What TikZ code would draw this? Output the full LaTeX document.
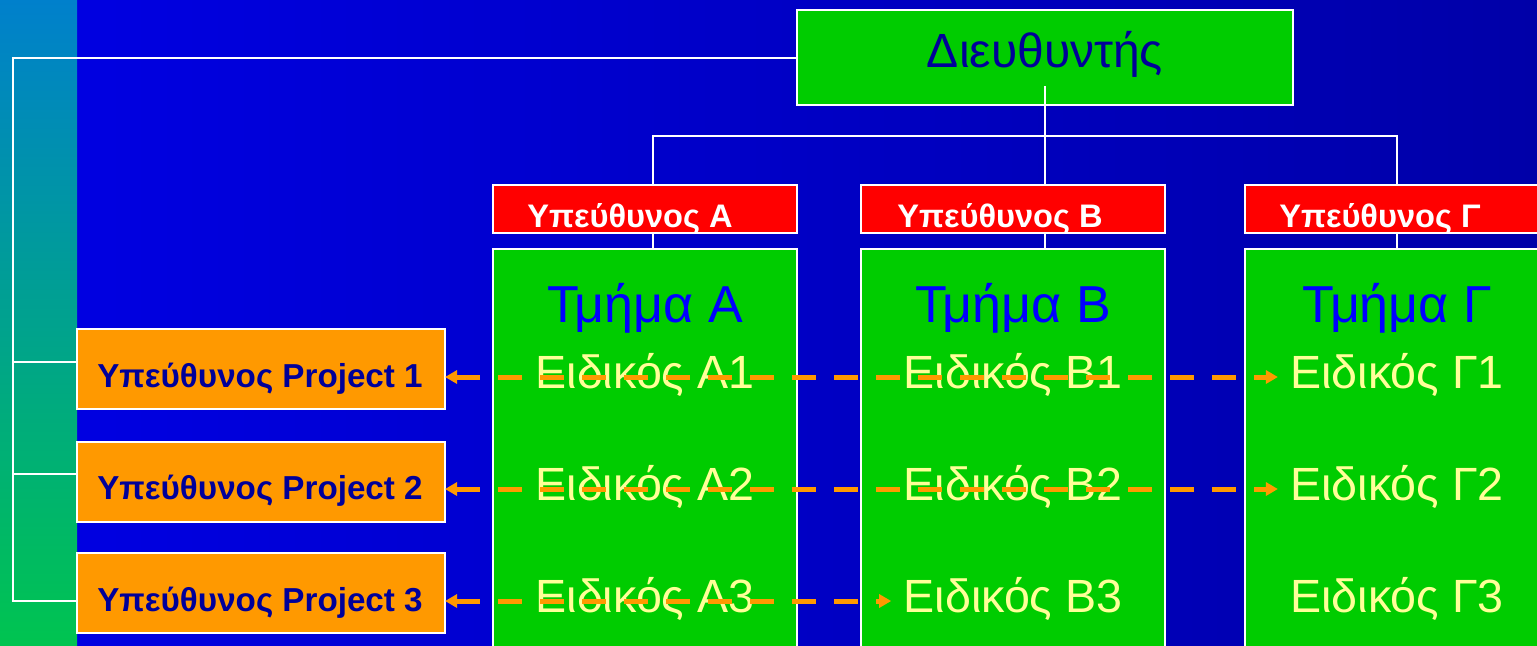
\documentclass[tikz,border=0pt]{standalone}
\usepackage{fontspec}
\setmainfont{Liberation Sans}
\usetikzlibrary{arrows.meta,calc}
\definecolor{bgA}{RGB}{0,0,228}
\definecolor{bgB}{RGB}{0,0,168}
\definecolor{stripT}{RGB}{0,128,204}
\definecolor{stripB}{RGB}{0,196,80}
\definecolor{boxgreen}{RGB}{0,204,0}
\definecolor{navy}{RGB}{0,0,153}
\definecolor{orng}{RGB}{255,153,0}
\definecolor{pale}{RGB}{255,255,153}
\definecolor{tblue}{RGB}{0,0,255}
\begin{document}
\begin{tikzpicture}[x=0.5pt,y=-0.5pt,
  box/.style={draw=white,line width=1pt,inner sep=0pt,outer sep=0pt},
  greenbox/.style={box,fill=boxgreen},
  redbox/.style={box,fill=red,minimum width=152pt,minimum height=24pt},
  deptbox/.style={greenbox,minimum width=152pt,minimum height=225.5pt},
  projbox/.style={box,fill=orng,minimum width=184pt,minimum height=40pt},
  wline/.style={draw=white,line width=1pt},
  dirtext/.style={anchor=base,inner sep=0pt,text=navy,font=\fontsize{24pt}{28pt}\selectfont},
  headtext/.style={anchor=base,inner sep=0pt,text=white,font=\bfseries\fontsize{16.3pt}{20pt}\selectfont},
  projtext/.style={anchor=base,inner sep=0pt,text=navy,font=\bfseries\fontsize{16.6pt}{20pt}\selectfont},
  depttext/.style={anchor=base,inner sep=0pt,text=tblue,font=\fontsize{26pt}{30pt}\selectfont},
  spectext/.style={anchor=base,inner ysep=0pt,inner xsep=6pt,text=pale,font=\fontsize{23.3pt}{28pt}\selectfont},
  projarrow/.style={draw=orng,line width=2.5pt,dash pattern=on 12pt off 9pt,
    {Triangle[length=6pt,width=6.5pt]}-{Triangle[length=6pt,width=6.5pt]}}
]
\clip (0,0) rectangle (1537,645);
\shade[left color=bgA,right color=bgB] (0,0) rectangle (1537,645);
\shade[top color=stripT,bottom color=stripB] (0,0) rectangle (77,645);

% boxes
\node[greenbox,minimum width=248pt,minimum height=47.5pt] (dir) at (1045,57.5) {};
\node[redbox] (ra) at (645,209) {};
\node[redbox] (rb) at (1013,209) {};
\node[redbox] (rg) at (1397,209) {};
\node[deptbox] (ga) at (645,474.5) {};
\node[deptbox] (gb) at (1013,474.5) {};
\node[deptbox] (gg) at (1397,474.5) {};
\node[projbox] (p1) at (261,369) {};
\node[projbox] (p2) at (261,482) {};
\node[projbox] (p3) at (261,593) {};

% white connectors
\draw[wline] (dir.west) -- (13,57.5) coordinate (lt) -- (lt |- 0,601) -- ($(p3.west)+(0,8)$);
\draw[wline] ($(p1.west)+(0,-7)$) -- ($(p1.west)+(-64,-7)$);
\draw[wline] ($(p2.west)+(0,-8)$) -- ($(p2.west)+(-64,-8)$);
\draw[wline] ($(dir.center)+(0,28.5)$) -- ([xshift=16pt]rb.north);
\draw[wline] ([xshift=4pt]ra.north) -- ([xshift=4pt]ra.north |- 0,136) -- (rg.north |- 0,136) -- (rg.north);
\draw[wline] ([xshift=4pt]ra.south) -- ([xshift=4pt]ga.north);
\draw[wline] ([xshift=16pt]rb.south) -- ([xshift=16pt]gb.north);
\draw[wline] (rg.south) -- (gg.north);

% texts
\node[dirtext] (tdir) at (1045,67) {Διευθυντής};
\node[headtext] (ha) at (630,227) {Υπεύθυνος Α};
\node[headtext] (hb) at (1000,227) {Υπεύθυνος Β};
\node[headtext] (hg) at (1380,227) {Υπεύθυνος Γ};
\node[projtext] (tp1) at (260,387) {Υπεύθυνος Project 1};
\node[projtext] (tp2) at (260,499) {Υπεύθυνος Project 2};
\node[projtext] (tp3) at (260,611) {Υπεύθυνος Project 3};
\node[depttext] (da) at (645,322) {Τμήμα Α};
\node[depttext] (db) at (1013,322) {Τμήμα Β};
\node[depttext] (dg) at (1397,322) {Τμήμα Γ};
\node[spectext] (eA1) at (645,388) {Ειδικός Α1};
\node[spectext] (eB1) at (1013,388) {Ειδικός Β1};
\node[spectext] (eG1) at (1397,388) {Ειδικός Γ1};
\node[spectext] (eA2) at (645,500) {Ειδικός Α2};
\node[spectext] (eB2) at (1013,500) {Ειδικός Β2};
\node[spectext] (eG2) at (1397,500) {Ειδικός Γ2};
\node[spectext] (eA3) at (645,612) {Ειδικός Α3};
\node[spectext] (eB3) at (1013,612) {Ειδικός Β3};
\node[spectext] (eG3) at (1397,612) {Ειδικός Γ3};

% project arrows
\draw[projarrow] ([yshift=-4pt]p1.east) -- ([yshift=-4pt]p1.east -| eG1.west);
\draw[projarrow] ([yshift=-3.5pt]p2.east) -- ([yshift=-3.5pt]p2.east -| eG2.west);
\draw[projarrow] ([yshift=-4pt]p3.east) -- ([yshift=-4pt]p3.east -| eB3.west);
\end{tikzpicture}
\end{document}
